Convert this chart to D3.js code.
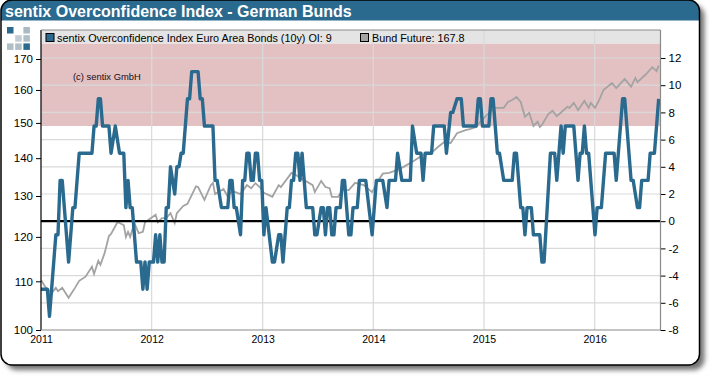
<!DOCTYPE html>
<html lang="en">
<head>
  <meta charset="UTF-8">
  <title>sentix Overconfidence Index - German Bunds</title>
  <style>
    html, body { margin: 0; padding: 0; background: #fff; }
    text { font-family: "Liberation Sans", Arial, sans-serif; }
  </style>
</head>
<body>
<div id="chart"></div>
<script src="https://d3js.org/d3.v7.min.js"></script>
<script>
  // weeks counted from the first week of 2011, turning points only
  const indexWeeks = [0,3,4,7,8,9,10,13,15,16,18,24,25,26,27,28,29,32,33,35,37,39,40,41,42,43,45,47,48,49,50,51,53,54,55,56,57,58,59,60,61,63,64,65,66,67,68,69,70,71,74,75,76,77,81,82,83,85,88,89,90,91,92,94,95,96,97,98,99,100,101,102,103,104,105,106,109,110,112,113,114,116,117,118,119,120,121,122,123,125,127,128,129,130,132,133,134,135,136,137,138,139,141,142,143,145,146,147,149,150,153,156,158,161,163,164,167,168,170,174,175,177,179,180,181,184,185,190,191,193,194,196,198,199,205,206,207,208,211,212,213,214,215,216,218,222,223,224,226,227,228,229,231,232,235,236,237,240,242,243,245,246,247,251,253,254,255,256,257,258,261,262,264,266,270,271,274,275,278,279,281,282,283,286,287,289,291];
  const indexValues = [-5,-5,-7,-1,-1,3,3,-3,1,1,5,5,7,7,9,9,7,7,5,7,5,5,1,3,1,1,-3,-3,-5,-3,-5,-3,-3,-1,-3,-1,-3,-3,1,1,4,2,4,4,5,5,7,9,9,11,11,9,9,7,7,3,3,1,1,3,3,1,1,-1,3,3,5,5,3,3,5,5,3,3,-1,1,-3,-3,-1,-1,-3,1,1,3,3,5,5,3,5,1,1,1,-1,-1,1,1,-1,1,1,-1,-1,1,1,3,3,-1,-1,1,1,3,3,-1,3,3,1,3,3,5,3,3,7,5,5,3,5,5,7,7,5,8,8,9,9,7,7,9,9,7,7,9,9,7,5,5,3,3,5,5,1,1,-1,1,1,-1,-1,-3,-3,5,5,3,7,5,7,7,3,5,5,7,5,5,-1,1,1,5,5,3,9,9,3,3,1,1,3,3,5,5,9];

  const bundWeeks = [0,2,5,7,8,10,13,16,18,21,24,25,27,28,30,32,33,36,37,39,40,41,42,44,46,48,49,54,55,57,59,61,63,64,67,69,73,74,77,80,81,82,86,88,90,94,97,99,101,103,105,109,112,113,118,120,122,124,128,129,132,134,136,137,140,142,145,148,152,156,159,161,164,168,171,175,180,184,187,190,193,196,200,202,205,207,210,214,216,218,220,222,224,226,228,230,232,234,235,236,239,241,243,248,249,251,253,256,258,259,261,263,265,269,271,275,278,280,281,285,288,290,291];
  const bundValues = [110.3,108.8,107.5,108.6,107.9,108.6,106.5,108.6,110.1,111.0,113.2,111.6,114.5,113.6,116.3,120.2,120.7,123.5,123.3,122.8,120.0,121.2,120.0,123.3,120.9,121.2,123.5,125.3,123.5,124.5,124.5,125.7,123.3,125.7,127.5,128.0,132.5,132.3,129.0,132.8,133.4,130.5,131.8,129.8,131.3,130.5,132.8,132.0,133.3,132.3,130.8,129.8,132.8,132.3,136.0,135.5,134.7,134.1,132.8,131.0,133.9,132.3,132.0,129.8,129.8,131.5,131.5,133.4,132.8,131.0,134.1,135.8,136.0,136.8,137.7,139.0,140.9,141.5,143.1,144.5,144.2,147.0,147.9,148.2,148.8,150.4,152.3,154.5,154.5,154.5,156.3,156.9,157.8,156.3,151.8,153.0,149.1,150.4,148.8,149.4,152.6,153.6,152.0,154.8,154.5,156.0,153.8,156.6,154.5,156.0,154.5,156.9,160.0,162.2,160.6,163.5,161.0,163.8,162.5,165.0,167.3,166.0,167.8];

  const priceTicks = [100,110,120,130,140,150,160,170];
  const indexTicks = [-8,-6,-4,-2,0,2,4,6,8,10,12];
  const yearTicks = [2011,2012,2013,2014,2015,2016];
  const overconfidentFrom = 7;

  const width = 710, height = 376;
  const plotLeft = 41, plotRight = 660.5, plotTop = 30, legendBottom = 43.5, plotBottom = 330;
  const blue = "#2a6a8f", grid = "#d9d9d9", axisGrey = "#8a8a8a";

  const firstDay = new Date(2011, 0, 1);
  const x = d3.scaleTime().domain([firstDay, new Date(2016, 7, 5)]).range([plotLeft, plotRight]);
  const yIndex = d3.scaleLinear().domain([-8, 12]).range([plotBottom, 58]);
  const yPrice = d3.scaleLog().domain([100, 170]).range([plotBottom, 59]);
  const weekDate = w => d3.timeDay.offset(firstDay, w * 7);

  const svg = d3.select("#chart").append("svg")
    .attr("width", width)
    .attr("height", height)
    .style("display", "block");

  const defs = svg.append("defs");
  const shadow = defs.append("filter").attr("id", "shadow")
    .attr("x", "-5%").attr("y", "-5%").attr("width", "115%").attr("height", "115%");
  shadow.append("feDropShadow")
    .attr("dx", 5).attr("dy", 5).attr("stdDeviation", 2.5)
    .attr("flood-color", "#000").attr("flood-opacity", 0.55);
  defs.append("clipPath").attr("id", "frame-clip")
    .append("rect").attr("x", 1).attr("y", 0).attr("width", 698.5).attr("height", 365).attr("rx", 11);
  defs.append("clipPath").attr("id", "plot-clip")
    .append("rect").attr("x", plotLeft).attr("y", plotTop).attr("width", plotRight - plotLeft).attr("height", plotBottom - plotTop);

  // card and title bar
  svg.append("rect")
    .attr("x", 1).attr("y", 0).attr("width", 698.5).attr("height", 365).attr("rx", 11)
    .attr("fill", "#fff").attr("filter", "url(#shadow)");
  svg.append("rect")
    .attr("x", 0).attr("y", 0).attr("width", width).attr("height", 20.5)
    .attr("fill", blue).attr("clip-path", "url(#frame-clip)");
  svg.append("rect")
    .attr("x", 1).attr("y", 0).attr("width", 698.5).attr("height", 365).attr("rx", 11)
    .attr("fill", "none").attr("stroke", "#000").attr("stroke-width", 1.5);
  svg.append("text")
    .attr("x", 5).attr("y", 16.5)
    .attr("fill", "#fff")
    .style("font-size", "16px").style("font-weight", "bold")
    .text("sentix Overconfidence Index - German Bunds");

  // small logo squares
  const logoCells = [[0,0,blue,1],[2,0,"#8fa3ad",0.75],[1,1,"#8fa3ad",0.55],[2,1,"#8fa3ad",0.7],[0,2,"#8fa3ad",0.7],[1,2,"#8fa3ad",0.7],[2,2,blue,1]];
  svg.selectAll(".logo").data(logoCells).enter().append("rect")
    .attr("class", "logo")
    .attr("x", d => 7 + d[0] * 8.2).attr("y", d => 27 + d[1] * 8.2)
    .attr("width", 6.5).attr("height", 6.5)
    .attr("fill", d => d[2]).attr("opacity", d => d[3]);

  const plot = svg.append("g");

  plot.append("rect")
    .attr("x", plotLeft).attr("y", legendBottom)
    .attr("width", plotRight - plotLeft).attr("height", yIndex(overconfidentFrom) - legendBottom)
    .attr("fill", "#e3c1c3");
  plot.append("rect")
    .attr("x", plotLeft).attr("y", plotTop).attr("width", plotRight - plotLeft).attr("height", legendBottom - plotTop)
    .attr("fill", "#e4e4e4");

  plot.selectAll(".hgrid").data(indexTicks.filter(d => d > -8)).enter().append("line")
    .attr("class", "hgrid")
    .attr("x1", plotLeft).attr("x2", plotRight)
    .attr("y1", d => yIndex(d)).attr("y2", d => yIndex(d))
    .attr("stroke", grid).attr("stroke-width", 1.2);
  plot.selectAll(".vgrid").data(yearTicks.slice(1)).enter().append("line")
    .attr("class", "vgrid")
    .attr("x1", d => x(new Date(d, 0, 1))).attr("x2", d => x(new Date(d, 0, 1)))
    .attr("y1", plotTop).attr("y2", plotBottom)
    .attr("stroke", grid).attr("stroke-width", 1.2);

  const lines = plot.append("g").attr("clip-path", "url(#plot-clip)");

  const bundLine = d3.line()
    .x(d => x(weekDate(d)))
    .y((d, i) => yPrice(bundValues[i]));
  lines.append("path")
    .attr("d", bundLine(bundWeeks))
    .attr("fill", "none").attr("stroke", "#a3a3a3").attr("stroke-width", 1.8);

  lines.append("line")
    .attr("x1", plotLeft).attr("x2", plotRight)
    .attr("y1", yIndex(0)).attr("y2", yIndex(0))
    .attr("stroke", "#000").attr("stroke-width", 2.2);

  const indexLine = d3.line()
    .x(d => x(weekDate(d)))
    .y((d, i) => yIndex(indexValues[i]));
  lines.append("path")
    .attr("d", indexLine(indexWeeks))
    .attr("fill", "none").attr("stroke", blue).attr("stroke-width", 3.4)
    .attr("stroke-linejoin", "round");

  // axes
  const leftAxis = d3.axisLeft(yPrice).tickValues(priceTicks).tickFormat(d3.format("d")).tickSize(5).tickPadding(3);
  const leftG = svg.append("g").attr("transform", `translate(${plotLeft},0)`).call(leftAxis);
  leftG.select(".domain").remove();
  leftG.append("line").attr("y1", plotTop).attr("y2", plotBottom).attr("stroke", "#000").attr("stroke-width", 1.2);

  const rightAxis = d3.axisRight(yIndex).tickValues(indexTicks).tickSize(5).tickPadding(3).tickFormat(d => d);
  const rightG = svg.append("g").attr("transform", `translate(${plotRight},0)`).call(rightAxis);
  rightG.select(".domain").remove();
  rightG.append("line").attr("y1", plotTop).attr("y2", plotBottom).attr("stroke", axisGrey).attr("stroke-width", 1.2);

  const bottomAxis = d3.axisBottom(x)
    .tickValues(yearTicks.map(d => new Date(d, 0, 1)))
    .tickFormat(d3.timeFormat("%Y")).tickSize(0).tickPadding(6);
  const bottomG = svg.append("g").attr("transform", `translate(0,${plotBottom})`).call(bottomAxis);
  bottomG.select(".domain").remove();
  bottomG.append("line").attr("x1", plotLeft).attr("x2", plotRight).attr("stroke", axisGrey).attr("stroke-width", 1.2);

  svg.selectAll(".tick text")
    .style("font-family", '"Liberation Sans", Arial, sans-serif')
    .style("font-size", "11.5px").attr("fill", "#000");
  bottomG.selectAll(".tick text").style("font-size", "10.5px");
  svg.selectAll(".tick line").attr("stroke", "#000");

  // top border of the plot and the legend row
  svg.append("line").attr("x1", plotLeft).attr("x2", plotRight).attr("y1", plotTop).attr("y2", plotTop)
    .attr("stroke", axisGrey).attr("stroke-width", 1.2);
  svg.append("rect").attr("x", 46).attr("y", 33.5).attr("width", 8).attr("height", 8)
    .attr("fill", blue).attr("stroke", "#000").attr("stroke-width", 1);
  svg.append("text").attr("x", 57).attr("y", 41.5).style("font-size", "10.8px")
    .text("sentix Overconfidence Index Euro Area Bonds (10y) OI: 9");
  svg.append("rect").attr("x", 360.5).attr("y", 33.5).attr("width", 8).attr("height", 8)
    .attr("fill", "#a3a3a3").attr("stroke", "#000").attr("stroke-width", 1);
  svg.append("text").attr("x", 372).attr("y", 41.5).style("font-size", "10.8px")
    .text("Bund Future: 167.8");

  svg.append("text").attr("x", 73).attr("y", 79.5)
    .attr("fill", "#1a0a10").style("font-size", "9.4px")
    .text("(c) sentix GmbH");
</script>
</body>
</html>
